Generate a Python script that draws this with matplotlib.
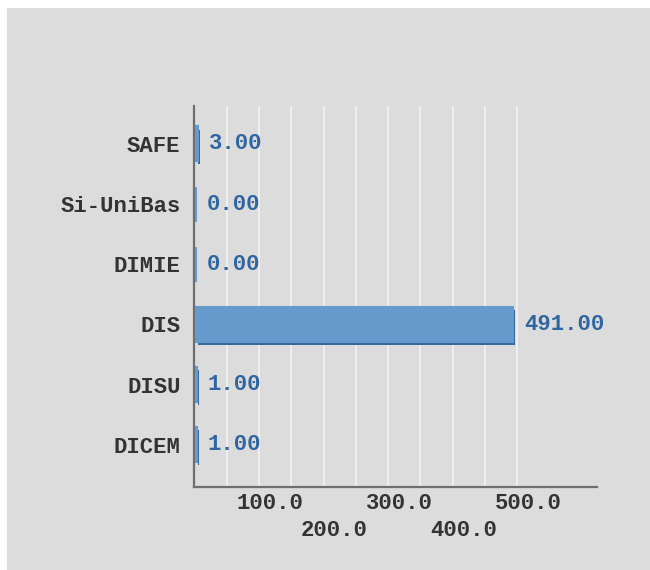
import matplotlib
matplotlib.use("Agg")
import matplotlib.pyplot as plt
import matplotlib.patheffects as pe
from matplotlib.patches import Rectangle
from matplotlib.transforms import ScaledTranslation

# data, bottom to top as drawn
categories = ["DICEM", "DISU", "DIS", "DIMIE", "Si-UniBas", "SAFE"]
values = [1.0, 1.0, 491.0, 0.0, 0.0, 3.0]
tick_values = [100, 200, 300, 400, 500]
grid_values = [50, 100, 150, 200, 250, 300, 350, 400, 450, 500]

BG = "#dcdcdc"
BAR = "#6699cc"
BAR_DARK = "#35679c"
VALUE_COLOR = "#2f65a0"
TEXT = "#333333"
FONT = "Liberation Mono"
FS = 16

fig = plt.figure(figsize=(6.5, 5.7), dpi=100)
fig.patch.set_facecolor("white")
fig.patches.append(Rectangle((7 / 650, -0.1), 2, 1.1 - 8 / 570, transform=fig.transFigure,
                             facecolor=BG, edgecolor="none", zorder=-10))

ax = fig.add_axes([194.4 / 650, 83 / 570, (596.7 - 194.4) / 650, (487 - 106) / 570])
ax.set_facecolor(BG)

ypos = list(range(len(categories)))
bars = ax.barh(ypos, values, height=0.58, color=BAR, edgecolor=BAR, linewidth=1.5, zorder=5)
nudge = ScaledTranslation(2.0 / 100, 0, fig.dpi_scale_trans)
for b in bars:
    b.set_transform(ax.transData + nudge)
    b.set_path_effects([pe.SimplePatchShadow(offset=(1.2, -2.2), shadow_rgbFace=BAR_DARK, alpha=1.0),
                        pe.Normal()])

for y, v in zip(ypos, values):
    ax.annotate(f"{v:.2f}", xy=(v, y), xytext=(9, 0), textcoords="offset points",
                va="center", ha="left", color=VALUE_COLOR, fontsize=FS,
                fontweight="bold", family=FONT)

for g in grid_values:
    ax.axvline(g, color="#f2f2f2", linewidth=1.2, zorder=1)

ax.set_xlim(0, 623)
ax.set_ylim(-0.7, len(categories) - 1 + 0.63)

ax.set_yticks(ypos)
ax.set_yticklabels(categories, fontsize=FS, fontweight="bold", family=FONT, color=TEXT)
ax.tick_params(axis="y", length=0, pad=10)

ax.set_xticks(tick_values)
labels = []
for i, t in enumerate(tick_values):
    s = f"{t:.1f}"
    labels.append(s if i % 2 == 0 else "\n" + s)
ax.set_xticklabels(labels, fontsize=FS, fontweight="bold", family=FONT, color=TEXT)
ax.tick_params(axis="x", length=0, pad=4)
shift = ScaledTranslation(11 / 100, 0, fig.dpi_scale_trans)
for lbl in ax.get_xticklabels():
    lbl.set_linespacing(1.4)
    lbl.set_transform(lbl.get_transform() + shift)

for side in ("top", "right"):
    ax.spines[side].set_visible(False)
for side in ("left", "bottom"):
    ax.spines[side].set_color("#6e6e6e")
    ax.spines[side].set_linewidth(1.6)
    ax.spines[side].set_zorder(4)

fig.savefig("out.png", dpi=100, facecolor=fig.get_facecolor())
